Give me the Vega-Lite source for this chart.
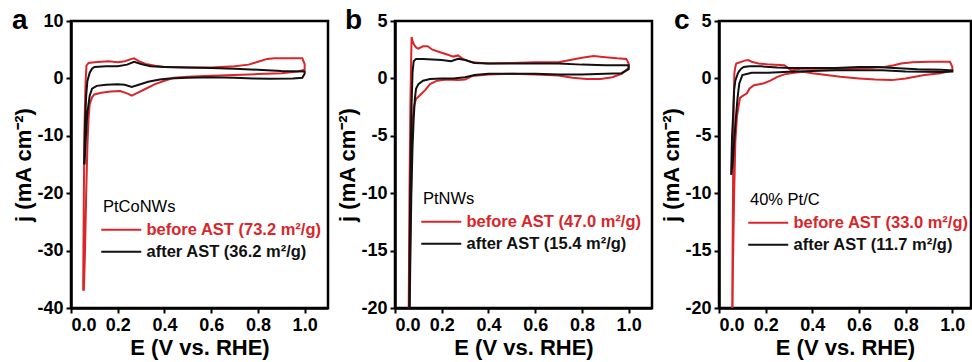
{
  "$schema": "https://vega.github.io/schema/vega-lite/v6.json",
  "padding": {"left": 10, "top": 5, "right": 0, "bottom": 0},
  "bounds": "flush",
  "spacing": 67,
  "config": {
    "font": "Liberation Sans",
    "view": {"stroke": "black", "strokeWidth": 2.5},
    "axis": {
      "domainColor": "black", "domainWidth": 2.5, "tickColor": "black", "tickWidth": 2, "tickSize": 5,
      "labelFont": "Liberation Sans", "labelFontWeight": "bold", "labelFontSize": 18, "labelColor": "black", "labelPadding": 3,
      "titleFont": "Liberation Sans", "titleFontWeight": "bold", "titleFontSize": 22, "titleColor": "black", "titlePadding": 3,
      "grid": false
    },
    "axisY": {"titlePadding": 1},
    "legend": {
      "orient": "none", "titleFont": "Liberation Sans", "titleFontSize": 16.5, "titleFontWeight": "normal", "titleColor": "black",
      "titlePadding": 6, "labelFont": "Liberation Sans", "labelFontSize": 16.5, "labelFontWeight": "bold", "labelLimit": 300,
      "symbolType": "M-4,0L4,0", "symbolSize": 100, "symbolStrokeWidth": 2, "symbolOffset": 10, "labelOffset": 17, "rowPadding": 5
    },
    "title": {"font": "Liberation Sans", "fontSize": 28, "fontWeight": "bold", "color": "black", "anchor": "start", "frame": "group", "baseline": "alphabetic", "offset": 0}
  },
  "datasets": {
    "a": [
      {"s":"before","i":1,"E":0.052,"j":-37},{"s":"before","i":2,"E":0.055,"j":-20},{"s":"before","i":3,"E":0.058,"j":-8},{"s":"before","i":4,"E":0.062,"j":-1},
      {"s":"before","i":5,"E":0.066,"j":2.2},{"s":"before","i":6,"E":0.075,"j":2.7},{"s":"before","i":7,"E":0.1,"j":2.8},{"s":"before","i":8,"E":0.13,"j":2.9},
      {"s":"before","i":9,"E":0.16,"j":3.0},{"s":"before","i":10,"E":0.2,"j":2.8},{"s":"before","i":11,"E":0.23,"j":3.0},{"s":"before","i":12,"E":0.26,"j":3.4},
      {"s":"before","i":13,"E":0.27,"j":3.5},{"s":"before","i":14,"E":0.29,"j":3.0},{"s":"before","i":15,"E":0.32,"j":2.5},{"s":"before","i":16,"E":0.36,"j":2.2},
      {"s":"before","i":17,"E":0.4,"j":2.0},{"s":"before","i":18,"E":0.5,"j":1.9},{"s":"before","i":19,"E":0.6,"j":1.9},{"s":"before","i":20,"E":0.7,"j":2.1},
      {"s":"before","i":21,"E":0.76,"j":2.4},{"s":"before","i":22,"E":0.8,"j":2.9},{"s":"before","i":23,"E":0.84,"j":3.4},{"s":"before","i":24,"E":0.87,"j":3.5},
      {"s":"before","i":25,"E":0.95,"j":3.5},{"s":"before","i":26,"E":0.99,"j":3.5},{"s":"before","i":27,"E":1.0,"j":2.5},{"s":"before","i":28,"E":1.0,"j":1.5},
      {"s":"before","i":29,"E":0.97,"j":1.2},{"s":"before","i":30,"E":0.9,"j":0.9},{"s":"before","i":31,"E":0.8,"j":0.75},{"s":"before","i":32,"E":0.7,"j":0.6},
      {"s":"before","i":33,"E":0.6,"j":0.45},{"s":"before","i":34,"E":0.5,"j":0.3},{"s":"before","i":35,"E":0.44,"j":0.1},{"s":"before","i":36,"E":0.4,"j":-0.4},
      {"s":"before","i":37,"E":0.36,"j":-1.0},{"s":"before","i":38,"E":0.32,"j":-1.8},{"s":"before","i":39,"E":0.28,"j":-2.6},{"s":"before","i":40,"E":0.26,"j":-3.0},
      {"s":"before","i":41,"E":0.24,"j":-2.6},{"s":"before","i":42,"E":0.21,"j":-2.2},{"s":"before","i":43,"E":0.17,"j":-2.3},{"s":"before","i":44,"E":0.13,"j":-2.5},
      {"s":"before","i":45,"E":0.1,"j":-2.8},{"s":"before","i":46,"E":0.09,"j":-3.3},{"s":"before","i":47,"E":0.08,"j":-4.5},{"s":"before","i":48,"E":0.075,"j":-7},
      {"s":"before","i":49,"E":0.07,"j":-12},{"s":"before","i":50,"E":0.065,"j":-20},{"s":"before","i":51,"E":0.06,"j":-30},{"s":"before","i":52,"E":0.055,"j":-37},
      {"s":"after","i":1,"E":0.056,"j":-15},{"s":"after","i":2,"E":0.06,"j":-8},{"s":"after","i":3,"E":0.065,"j":-3},{"s":"after","i":4,"E":0.07,"j":-0.5},
      {"s":"after","i":5,"E":0.08,"j":1.0},{"s":"after","i":6,"E":0.09,"j":1.7},{"s":"after","i":7,"E":0.1,"j":2.0},{"s":"after","i":8,"E":0.15,"j":2.1},
      {"s":"after","i":9,"E":0.2,"j":2.1},{"s":"after","i":10,"E":0.24,"j":2.4},{"s":"after","i":11,"E":0.27,"j":2.9},{"s":"after","i":12,"E":0.3,"j":2.5},
      {"s":"after","i":13,"E":0.34,"j":2.1},{"s":"after","i":14,"E":0.4,"j":2.0},{"s":"after","i":15,"E":0.5,"j":1.9},{"s":"after","i":16,"E":0.6,"j":1.8},
      {"s":"after","i":17,"E":0.7,"j":1.7},{"s":"after","i":18,"E":0.8,"j":1.5},{"s":"after","i":19,"E":0.9,"j":1.3},{"s":"after","i":20,"E":1.0,"j":1.2},
      {"s":"after","i":21,"E":1.0,"j":0.8},{"s":"after","i":22,"E":0.99,"j":0.1},{"s":"after","i":23,"E":0.95,"j":0.0},{"s":"after","i":24,"E":0.85,"j":-0.05},
      {"s":"after","i":25,"E":0.78,"j":0.0},{"s":"after","i":26,"E":0.7,"j":0.1},{"s":"after","i":27,"E":0.6,"j":0.2},{"s":"after","i":28,"E":0.5,"j":0.1},
      {"s":"after","i":29,"E":0.42,"j":0.0},{"s":"after","i":30,"E":0.38,"j":-0.2},{"s":"after","i":31,"E":0.33,"j":-0.6},{"s":"after","i":32,"E":0.29,"j":-1.1},
      {"s":"after","i":33,"E":0.26,"j":-1.5},{"s":"after","i":34,"E":0.23,"j":-1.1},{"s":"after","i":35,"E":0.2,"j":-1.0},{"s":"after","i":36,"E":0.15,"j":-1.1},
      {"s":"after","i":37,"E":0.11,"j":-1.3},{"s":"after","i":38,"E":0.09,"j":-1.8},{"s":"after","i":39,"E":0.08,"j":-3},{"s":"after","i":40,"E":0.07,"j":-6},
      {"s":"after","i":41,"E":0.064,"j":-10},{"s":"after","i":42,"E":0.058,"j":-15}
    ],
    "b": [
      {"s":"before","i":1,"E":0.058,"j":-22},{"s":"before","i":2,"E":0.062,"j":-10},{"s":"before","i":3,"E":0.066,"j":-2},{"s":"before","i":4,"E":0.069,"j":1.5},
      {"s":"before","i":5,"E":0.071,"j":3.6},{"s":"before","i":6,"E":0.075,"j":3.3},{"s":"before","i":7,"E":0.08,"j":3.0},{"s":"before","i":8,"E":0.09,"j":2.7},
      {"s":"before","i":9,"E":0.1,"j":2.6},{"s":"before","i":10,"E":0.12,"j":2.8},{"s":"before","i":11,"E":0.14,"j":2.8},{"s":"before","i":12,"E":0.16,"j":2.5},
      {"s":"before","i":13,"E":0.19,"j":2.3},{"s":"before","i":14,"E":0.22,"j":2.1},{"s":"before","i":15,"E":0.25,"j":1.9},{"s":"before","i":16,"E":0.27,"j":2.0},
      {"s":"before","i":17,"E":0.29,"j":1.7},{"s":"before","i":18,"E":0.33,"j":1.4},{"s":"before","i":19,"E":0.4,"j":1.3},{"s":"before","i":20,"E":0.5,"j":1.35},
      {"s":"before","i":21,"E":0.6,"j":1.4},{"s":"before","i":22,"E":0.7,"j":1.4},{"s":"before","i":23,"E":0.75,"j":1.6},{"s":"before","i":24,"E":0.8,"j":1.8},
      {"s":"before","i":25,"E":0.85,"j":1.95},{"s":"before","i":26,"E":0.9,"j":1.85},{"s":"before","i":27,"E":0.95,"j":1.75},{"s":"before","i":28,"E":0.99,"j":1.7},
      {"s":"before","i":29,"E":1.0,"j":1.3},{"s":"before","i":30,"E":1.0,"j":0.9},{"s":"before","i":31,"E":0.97,"j":0.4},{"s":"before","i":32,"E":0.93,"j":0.1},
      {"s":"before","i":33,"E":0.88,"j":-0.05},{"s":"before","i":34,"E":0.82,"j":-0.05},{"s":"before","i":35,"E":0.76,"j":0.05},{"s":"before","i":36,"E":0.7,"j":0.25},
      {"s":"before","i":37,"E":0.6,"j":0.35},{"s":"before","i":38,"E":0.5,"j":0.4},{"s":"before","i":39,"E":0.4,"j":0.35},{"s":"before","i":40,"E":0.33,"j":0.2},
      {"s":"before","i":41,"E":0.3,"j":-0.1},{"s":"before","i":42,"E":0.27,"j":-0.15},{"s":"before","i":43,"E":0.22,"j":-0.1},{"s":"before","i":44,"E":0.18,"j":-0.2},
      {"s":"before","i":45,"E":0.15,"j":-0.5},{"s":"before","i":46,"E":0.13,"j":-1.0},{"s":"before","i":47,"E":0.11,"j":-1.4},{"s":"before","i":48,"E":0.09,"j":-1.8},
      {"s":"before","i":49,"E":0.08,"j":-2.5},{"s":"before","i":50,"E":0.075,"j":-4},{"s":"before","i":51,"E":0.07,"j":-8},{"s":"before","i":52,"E":0.065,"j":-15},
      {"s":"before","i":53,"E":0.06,"j":-22},
      {"s":"after","i":1,"E":0.06,"j":-22},{"s":"after","i":2,"E":0.065,"j":-10},{"s":"after","i":3,"E":0.07,"j":-3},{"s":"after","i":4,"E":0.075,"j":0.5},
      {"s":"after","i":5,"E":0.08,"j":1.5},{"s":"after","i":6,"E":0.09,"j":1.7},{"s":"after","i":7,"E":0.12,"j":1.7},{"s":"after","i":8,"E":0.16,"j":1.65},
      {"s":"after","i":9,"E":0.2,"j":1.6},{"s":"after","i":10,"E":0.24,"j":1.5},{"s":"after","i":11,"E":0.27,"j":1.7},{"s":"after","i":12,"E":0.3,"j":1.6},
      {"s":"after","i":13,"E":0.34,"j":1.35},{"s":"after","i":14,"E":0.4,"j":1.3},{"s":"after","i":15,"E":0.5,"j":1.3},{"s":"after","i":16,"E":0.6,"j":1.3},
      {"s":"after","i":17,"E":0.7,"j":1.3},{"s":"after","i":18,"E":0.8,"j":1.2},{"s":"after","i":19,"E":0.9,"j":1.15},{"s":"after","i":20,"E":1.0,"j":1.15},
      {"s":"after","i":21,"E":1.0,"j":0.8},{"s":"after","i":22,"E":0.97,"j":0.45},{"s":"after","i":23,"E":0.9,"j":0.4},{"s":"after","i":24,"E":0.8,"j":0.35},
      {"s":"after","i":25,"E":0.7,"j":0.35},{"s":"after","i":26,"E":0.6,"j":0.4},{"s":"after","i":27,"E":0.5,"j":0.4},{"s":"after","i":28,"E":0.4,"j":0.4},
      {"s":"after","i":29,"E":0.34,"j":0.3},{"s":"after","i":30,"E":0.3,"j":0.1},{"s":"after","i":31,"E":0.25,"j":0.0},{"s":"after","i":32,"E":0.2,"j":0.0},
      {"s":"after","i":33,"E":0.15,"j":-0.05},{"s":"after","i":34,"E":0.12,"j":-0.2},{"s":"after","i":35,"E":0.1,"j":-0.5},{"s":"after","i":36,"E":0.09,"j":-0.9},
      {"s":"after","i":37,"E":0.085,"j":-1.8},{"s":"after","i":38,"E":0.08,"j":-3.5},{"s":"after","i":39,"E":0.075,"j":-6},{"s":"after","i":40,"E":0.07,"j":-10},
      {"s":"after","i":41,"E":0.066,"j":-15},{"s":"after","i":42,"E":0.062,"j":-22}
    ],
    "c": [
      {"s":"before","i":1,"E":0.056,"j":-22},{"s":"before","i":2,"E":0.06,"j":-10},{"s":"before","i":3,"E":0.063,"j":-2},{"s":"before","i":4,"E":0.066,"j":0.5},
      {"s":"before","i":5,"E":0.07,"j":1.0},{"s":"before","i":6,"E":0.074,"j":1.3},{"s":"before","i":7,"E":0.09,"j":1.4},{"s":"before","i":8,"E":0.11,"j":1.55},
      {"s":"before","i":9,"E":0.125,"j":1.6},{"s":"before","i":10,"E":0.14,"j":1.45},{"s":"before","i":11,"E":0.17,"j":1.3},{"s":"before","i":12,"E":0.22,"j":1.2},
      {"s":"before","i":13,"E":0.28,"j":1.15},{"s":"before","i":14,"E":0.31,"j":0.7},{"s":"before","i":15,"E":0.35,"j":0.85},{"s":"before","i":16,"E":0.45,"j":0.85},
      {"s":"before","i":17,"E":0.55,"j":0.85},{"s":"before","i":18,"E":0.65,"j":0.9},{"s":"before","i":19,"E":0.71,"j":1.0},{"s":"before","i":20,"E":0.75,"j":1.15},
      {"s":"before","i":21,"E":0.78,"j":1.3},{"s":"before","i":22,"E":0.83,"j":1.4},{"s":"before","i":23,"E":0.9,"j":1.45},{"s":"before","i":24,"E":0.99,"j":1.45},
      {"s":"before","i":25,"E":1.0,"j":1.0},{"s":"before","i":26,"E":1.0,"j":0.7},{"s":"before","i":27,"E":0.95,"j":0.45},{"s":"before","i":28,"E":0.88,"j":0.29},
      {"s":"before","i":29,"E":0.8,"j":0.0},{"s":"before","i":30,"E":0.74,"j":-0.15},{"s":"before","i":31,"E":0.67,"j":-0.1},{"s":"before","i":32,"E":0.6,"j":0.0},
      {"s":"before","i":33,"E":0.52,"j":0.15},{"s":"before","i":34,"E":0.46,"j":0.3},{"s":"before","i":35,"E":0.4,"j":0.45},{"s":"before","i":36,"E":0.36,"j":0.57},
      {"s":"before","i":37,"E":0.32,"j":0.5},{"s":"before","i":38,"E":0.28,"j":0.35},{"s":"before","i":39,"E":0.25,"j":0.14},{"s":"before","i":40,"E":0.22,"j":-0.2},
      {"s":"before","i":41,"E":0.19,"j":-0.44},{"s":"before","i":42,"E":0.15,"j":-0.6},{"s":"before","i":43,"E":0.13,"j":-0.9},{"s":"before","i":44,"E":0.12,"j":-1.3},
      {"s":"before","i":45,"E":0.1,"j":-1.55},{"s":"before","i":46,"E":0.09,"j":-1.7},{"s":"before","i":47,"E":0.085,"j":-2.3},{"s":"before","i":48,"E":0.077,"j":-3.3},
      {"s":"before","i":49,"E":0.07,"j":-5.5},{"s":"before","i":50,"E":0.065,"j":-10},{"s":"before","i":51,"E":0.06,"j":-16},{"s":"before","i":52,"E":0.057,"j":-22},
      {"s":"after","i":1,"E":0.052,"j":-8.4},{"s":"after","i":2,"E":0.056,"j":-5},{"s":"after","i":3,"E":0.06,"j":-3.4},{"s":"after","i":4,"E":0.065,"j":-1.0},
      {"s":"after","i":5,"E":0.07,"j":-0.2},{"s":"after","i":6,"E":0.08,"j":0.4},{"s":"after","i":7,"E":0.085,"j":0.6},{"s":"after","i":8,"E":0.095,"j":0.85},
      {"s":"after","i":9,"E":0.106,"j":1.0},{"s":"after","i":10,"E":0.13,"j":1.05},{"s":"after","i":11,"E":0.18,"j":1.05},{"s":"after","i":12,"E":0.25,"j":0.95},
      {"s":"after","i":13,"E":0.31,"j":0.9},{"s":"after","i":14,"E":0.4,"j":0.9},{"s":"after","i":15,"E":0.5,"j":0.9},{"s":"after","i":16,"E":0.6,"j":1.0},
      {"s":"after","i":17,"E":0.68,"j":1.0},{"s":"after","i":18,"E":0.75,"j":0.9},{"s":"after","i":19,"E":0.85,"j":0.8},{"s":"after","i":20,"E":0.95,"j":0.75},
      {"s":"after","i":21,"E":1.0,"j":0.7},{"s":"after","i":22,"E":1.0,"j":0.6},{"s":"after","i":23,"E":0.95,"j":0.55},{"s":"after","i":24,"E":0.88,"j":0.57},
      {"s":"after","i":25,"E":0.8,"j":0.6},{"s":"after","i":26,"E":0.7,"j":0.7},{"s":"after","i":27,"E":0.6,"j":0.7},{"s":"after","i":28,"E":0.5,"j":0.7},
      {"s":"after","i":29,"E":0.4,"j":0.65},{"s":"after","i":30,"E":0.3,"j":0.57},{"s":"after","i":31,"E":0.21,"j":0.5},{"s":"after","i":32,"E":0.14,"j":0.49},
      {"s":"after","i":33,"E":0.1,"j":0.29},{"s":"after","i":34,"E":0.087,"j":-0.44},{"s":"after","i":35,"E":0.08,"j":-1.6},{"s":"after","i":36,"E":0.072,"j":-3.5},
      {"s":"after","i":37,"E":0.065,"j":-5.5},{"s":"after","i":38,"E":0.058,"j":-7.5},{"s":"after","i":39,"E":0.052,"j":-8.4}
    ]
  },
  "resolve": {"scale": {"color": "independent", "x": "independent", "y": "independent"}, "legend": {"color": "independent"}},
  "hconcat": [
    {
      "data": {"name": "a"},
      "width": 257, "height": 287,
      "title": {"text": "a", "dx": -59, "dy": 27},
      "mark": {"type": "line", "strokeWidth": 2, "clip": true},
      "encoding": {
        "x": {"field": "E", "type": "quantitative", "scale": {"domain": [0, 1.1], "nice": false, "zero": false},
              "axis": {"values": [0, 0.2, 0.4, 0.6, 0.8, 1.0], "format": ".1f", "title": "E (V vs. RHE)"}},
        "y": {"field": "j", "type": "quantitative", "scale": {"domain": [-40, 10], "nice": false},
              "axis": {"values": [-40, -30, -20, -10, 0, 10], "labelExpr": "'' + datum.value", "title": "j (mA cm⁻²)"}},
        "color": {"field": "s", "type": "nominal", "scale": {"domain": ["before", "after"], "range": ["#d8262b", "#111111"]},
                  "legend": {"title": "PtCoNWs", "legendX": 32, "legendY": 178,
                             "labelExpr": "datum.value == 'before' ? 'before AST (73.2 m²/g)' : 'after AST (36.2 m²/g)'",
                             "encode": {"labels": {"update": {"fill": {"signal": "datum.value == 'before' ? '#d8262b' : '#111111'"}}}}}},
        "order": {"field": "i", "type": "quantitative"}
      }
    },
    {
      "data": {"name": "b"},
      "width": 257, "height": 287,
      "title": {"text": "b", "dx": -50, "dy": 27},
      "mark": {"type": "line", "strokeWidth": 2, "clip": true},
      "encoding": {
        "x": {"field": "E", "type": "quantitative", "scale": {"domain": [0, 1.1], "nice": false, "zero": false},
              "axis": {"values": [0, 0.2, 0.4, 0.6, 0.8, 1.0], "format": ".1f", "title": "E (V vs. RHE)"}},
        "y": {"field": "j", "type": "quantitative", "scale": {"domain": [-20, 5], "nice": false},
              "axis": {"values": [-20, -15, -10, -5, 0, 5], "labelExpr": "'' + datum.value", "title": "j (mA cm⁻²)"}},
        "color": {"field": "s", "type": "nominal", "scale": {"domain": ["before", "after"], "range": ["#d8262b", "#111111"]},
                  "legend": {"title": "PtNWs", "legendX": 28, "legendY": 170,
                             "labelExpr": "datum.value == 'before' ? 'before AST (47.0 m²/g)' : 'after AST (15.4 m²/g)'",
                             "encode": {"labels": {"update": {"fill": {"signal": "datum.value == 'before' ? '#d8262b' : '#111111'"}}}}}},
        "order": {"field": "i", "type": "quantitative"}
      }
    },
    {
      "data": {"name": "c"},
      "width": 252, "height": 287,
      "title": {"text": "c", "dx": -45, "dy": 27},
      "mark": {"type": "line", "strokeWidth": 2, "clip": true},
      "encoding": {
        "x": {"field": "E", "type": "quantitative", "scale": {"domain": [0, 1.08], "nice": false, "zero": false},
              "axis": {"values": [0, 0.2, 0.4, 0.6, 0.8, 1.0], "format": ".1f", "title": "E (V vs. RHE)"}},
        "y": {"field": "j", "type": "quantitative", "scale": {"domain": [-20, 5], "nice": false},
              "axis": {"values": [-20, -15, -10, -5, 0, 5], "labelExpr": "'' + datum.value", "title": "j (mA cm⁻²)"}},
        "color": {"field": "s", "type": "nominal", "scale": {"domain": ["before", "after"], "range": ["#d8262b", "#111111"]},
                  "legend": {"title": "40% Pt/C", "legendX": 31, "legendY": 171,
                             "labelExpr": "datum.value == 'before' ? 'before AST (33.0 m²/g)' : 'after AST (11.7 m²/g)'",
                             "encode": {"labels": {"update": {"fill": {"signal": "datum.value == 'before' ? '#d8262b' : '#111111'"}}}}}},
        "order": {"field": "i", "type": "quantitative"}
      }
    }
  ]
}
